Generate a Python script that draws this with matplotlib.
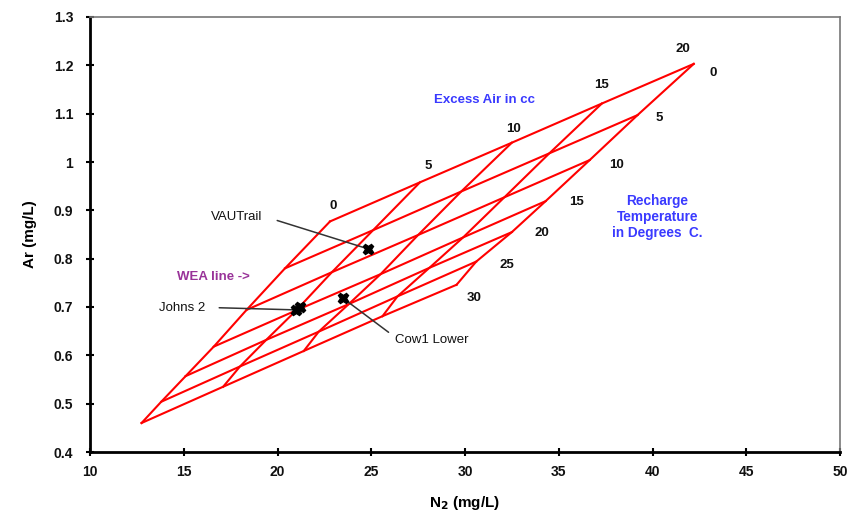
import numpy as np
import matplotlib.pyplot as plt
from matplotlib.ticker import FuncFormatter

plt.rcParams['font.family'] = ['Liberation Sans', 'DejaVu Sans']

# Recharge temperature (deg C) rows and excess air (cc) columns of the WEA grid
temps = [0, 5, 10, 15, 20, 25, 30]
excess_air = [0, 5, 10, 15, 20]

# Dissolved N2 (mg/L) at each grid node, rows = temperature, columns = excess air
n2_grid = [
    [22.80, 27.60, 32.50, 37.30, 42.20],
    [20.40, 25.10, 29.80, 34.50, 39.20],
    [18.35, 22.90, 27.50, 32.10, 36.65],
    [16.60, 21.00, 25.50, 29.90, 34.30],
    [15.10, 19.40, 23.80, 28.10, 32.50],
    [13.80, 18.00, 22.20, 26.40, 30.60],
    [12.75, 17.10, 21.40, 25.60, 29.55],
]

# Dissolved Ar (mg/L) at each grid node
ar_grid = [
    [0.877, 0.958, 1.040, 1.121, 1.203],
    [0.780, 0.859, 0.939, 1.018, 1.097],
    [0.694, 0.772, 0.849, 0.927, 1.004],
    [0.618, 0.693, 0.768, 0.844, 0.919],
    [0.557, 0.632, 0.706, 0.781, 0.855],
    [0.504, 0.577, 0.649, 0.722, 0.794],
    [0.460, 0.535, 0.609, 0.681, 0.746],
]

# Measured samples
sample_names = ["VAUTrail", "Johns 2", "Johns 2", "Cow1 Lower"]
sample_n2 = [24.85, 21.0, 21.2, 23.5]
sample_ar = [0.820, 0.694, 0.700, 0.718]

x_ticks = [10, 15, 20, 25, 30, 35, 40, 45, 50]
y_ticks = [0.4, 0.5, 0.6, 0.7, 0.8, 0.9, 1.0, 1.1, 1.2, 1.3]

n2 = np.array(n2_grid)
ar = np.array(ar_grid)

fig = plt.figure(figsize=(8.52, 5.16), dpi=100)
ax = fig.add_axes([90 / 852, 1 - 452 / 516, 750 / 852, 435 / 516])

red = '#ff0000'
# constant-temperature lines
for i in range(len(temps)):
    ax.plot(n2[i, :], ar[i, :], color=red, lw=1.5, solid_joinstyle='miter', zorder=2)
# constant-excess-air lines
for j in range(len(excess_air)):
    ax.plot(n2[:, j], ar[:, j], color=red, lw=1.5, solid_joinstyle='miter', zorder=2)

# label placement (pixel offsets from the grid node)
ea_label_offsets = [(3, 15), (8, 16), (2, 14), (0, 19), (-11, 15)]
t_label_offsets = [(19, -9), (22, -3), (27, -5), (31, -1), (30, -1), (31, -3), (18, -13)]

# excess air labels along the 0 C line
for j, ea in enumerate(excess_air):
    ax.annotate(str(ea), (n2[0, j], ar[0, j]), xytext=ea_label_offsets[j],
                textcoords='offset pixels', ha='center', va='center',
                fontsize=9.5, fontweight='bold', color='#111111')

# temperature labels along the 20 cc line
for i, t in enumerate(temps):
    ax.annotate(str(t), (n2[i, -1], ar[i, -1]), xytext=t_label_offsets[i],
                textcoords='offset pixels', ha='center', va='center',
                fontsize=9.5, fontweight='bold', color='#111111')

# sample markers
ax.plot(sample_n2, sample_ar, linestyle='none', marker='X', markersize=7.5,
        color='black', markeredgecolor='black', zorder=4)

callout = dict(arrowstyle='-', color='#333333', lw=1.1, shrinkB=0)
ax.annotate(sample_names[0], (sample_n2[0], sample_ar[0]), xytext=(19.2, 0.886),
            ha='right', va='center', fontsize=9.5, color='#111111',
            arrowprops=dict(callout, relpos=(1, 0.6), shrinkA=9))
ax.annotate(sample_names[1], (sample_n2[1], sample_ar[1]), xytext=(16.15, 0.698),
            ha='right', va='center', fontsize=9.5, color='#111111',
            arrowprops=dict(callout, relpos=(1, 0.55), shrinkA=8))
ax.annotate(sample_names[3], (sample_n2[3], sample_ar[3]), xytext=(26.25, 0.632),
            ha='left', va='center', fontsize=9.5, color='#111111',
            arrowprops=dict(callout, relpos=(0, 0.75), shrinkA=3))

ax.text(31.05, 1.128, "Excess Air in cc", ha='center', va='center',
        fontsize=9.5, fontweight='bold', color='#3a3aff')
ax.text(40.25, 0.887, "Recharge\nTemperature\nin Degrees  C.", ha='center', va='center',
        fontsize=9.8, fontweight='bold', color='#3a3aff', linespacing=1.18)
ax.text(16.6, 0.762, "WEA line ->", ha='center', va='center',
        fontsize=9.5, fontweight='bold', color='#993399')

ax.set_xlim(x_ticks[0], x_ticks[-1])
ax.set_ylim(y_ticks[0], y_ticks[-1])
ax.set_xticks(x_ticks)
ax.set_yticks(y_ticks)
ax.yaxis.set_major_formatter(FuncFormatter(lambda v, p: f"{v:g}"))
ax.tick_params(direction='inout', length=6, width=1.5, labelsize=10)
ax.tick_params(axis='x', pad=6)
ax.tick_params(axis='y', pad=9)
for lab in ax.get_xticklabels() + ax.get_yticklabels():
    lab.set_fontweight('bold')
    lab.set_color('#111111')

for side in ('left', 'bottom'):
    ax.spines[side].set_linewidth(2)
    ax.spines[side].set_color('black')
for side in ('top', 'right'):
    ax.spines[side].set_linewidth(1.2)
    ax.spines[side].set_color('#777777')

ax.set_xlabel(r"N$_\mathbf{2}$ (mg/L)", fontsize=11, fontweight='bold', labelpad=11)
ax.set_ylabel("Ar (mg/L)", fontsize=11, fontweight='bold', labelpad=12)

fig.savefig('out.png', dpi=100)
